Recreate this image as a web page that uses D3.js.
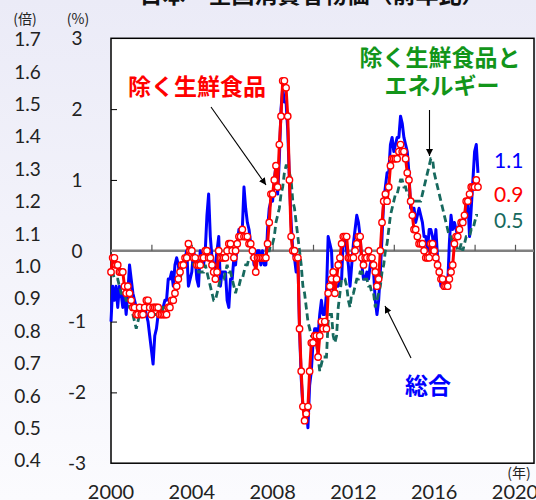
<!DOCTYPE html>
<html><head><meta charset="utf-8">
<script src="https://cdn.jsdelivr.net/npm/d3@7"></script>
<style>html,body{margin:0;padding:0;background:#f3f3fb;}svg{display:block}</style>
</head><body>
<svg id="c" width="536" height="500"></svg>
<script>
const START_YEAR = 2000;
// 総合 (headline CPI, y/y %), monthly Jan 2000 - Mar 2018
const headline = [
-1.0,-0.5,-0.7,-0.5,-0.8,-0.5,-0.6,-0.8,-0.6,-0.9,-0.6,-0.2,
-0.4,-0.6,-0.7,-0.8,-0.8,-0.8,-0.8,-0.8,-0.8,-0.9,-1.0,-1.2,
-1.4,-1.6,-1.2,-1.1,-0.9,-0.8,-0.8,-0.8,-0.7,-0.7,-0.4,-0.4,
-0.3,-0.5,-0.2,-0.1,-0.2,-0.4,-0.2,-0.2,-0.1,0.0,-0.5,-0.4,
-0.3,0.0,-0.1,-0.4,-0.5,0.0,-0.1,-0.2,0.0,0.5,0.8,0.2,
-0.1,-0.3,-0.2,0.0,0.2,-0.5,-0.3,-0.3,-0.3,-0.7,-0.8,-0.4,
-0.4,-0.1,-0.2,0.1,0.3,0.2,0.3,0.9,0.6,0.4,0.3,0.1,
0.0,-0.2,-0.1,0.0,0.0,-0.2,0.0,-0.2,-0.2,0.3,0.6,0.7,
0.7,1.0,1.2,0.8,1.3,2.0,2.3,2.1,2.1,1.7,1.0,0.4,
0.0,-0.1,-0.3,-0.1,-1.1,-1.8,-2.2,-2.2,-2.2,-2.5,-1.9,-1.7,
-1.3,-1.1,-1.1,-1.2,-0.9,-0.7,-0.9,-0.9,-0.6,0.2,0.1,0.0,
-0.6,-0.5,-0.5,-0.5,-0.4,-0.4,0.2,0.2,0.0,-0.2,-0.5,-0.2,
0.1,0.3,0.5,0.4,0.2,-0.2,-0.4,-0.4,-0.3,-0.4,-0.2,-0.1,
-0.3,-0.7,-0.9,-0.7,-0.3,0.2,0.7,0.9,1.1,1.1,1.5,1.6,
1.4,1.5,1.6,1.6,1.9,1.8,1.6,1.5,1.4,1.1,0.6,0.6,
0.6,0.4,0.5,0.6,0.5,0.4,0.2,0.2,0.0,0.3,0.3,0.2,
0.0,0.3,-0.1,-0.3,-0.5,-0.4,-0.4,-0.5,-0.5,0.1,0.5,0.3,
0.4,0.3,0.2,0.4,0.4,0.4,0.4,0.7,0.7,0.2,0.6,1.0,
1.4,1.5,1.1
];
// 除く生鮮食品 (ex fresh food)
const exFresh = [
-0.3,-0.1,-0.1,-0.2,-0.2,-0.3,-0.3,-0.3,-0.5,-0.6,-0.5,-0.6,
-0.7,-0.8,-0.8,-0.9,-0.9,-0.8,-0.9,-0.9,-0.8,-0.7,-0.7,-0.8,
-0.9,-0.8,-0.8,-0.8,-0.8,-0.9,-0.9,-0.9,-0.9,-0.9,-0.8,-0.8,
-0.7,-0.7,-0.6,-0.5,-0.4,-0.3,-0.2,-0.2,-0.1,-0.1,0.1,0.0,
0.0,-0.1,-0.1,-0.2,-0.2,-0.2,-0.1,-0.1,0.0,0.0,-0.1,-0.1,
-0.2,-0.3,-0.4,-0.3,0.0,-0.1,-0.1,-0.1,-0.1,0.0,0.1,0.1,
0.0,-0.1,0.0,0.1,0.2,0.2,0.3,0.2,0.2,0.2,0.1,0.1,
0.0,-0.1,-0.3,-0.1,-0.1,-0.1,-0.1,-0.1,-0.1,0.1,0.4,0.8,
0.8,1.0,1.2,0.9,1.5,1.9,2.4,2.4,2.3,1.9,1.0,0.2,
0.0,0.0,-0.1,-0.1,-1.1,-1.7,-2.2,-2.4,-2.3,-2.2,-1.7,-1.3,
-1.3,-1.2,-1.2,-1.5,-1.2,-1.0,-1.1,-1.0,-1.1,-0.6,-0.5,-0.4,
-0.3,-0.6,-0.4,-0.2,-0.1,0.1,0.2,0.2,0.2,-0.1,-0.1,-0.1,
-0.1,0.0,0.1,0.2,0.2,-0.1,-0.2,-0.1,-0.1,0.0,-0.1,-0.1,
-0.2,-0.3,-0.5,-0.4,0.0,0.4,0.7,0.8,0.7,0.9,1.2,1.3,
1.3,1.3,1.3,1.4,1.5,1.4,1.4,1.3,1.1,1.0,0.7,0.5,
0.3,0.3,0.2,0.1,0.1,0.1,0.0,-0.1,-0.1,-0.1,0.1,0.1,
0.0,-0.1,-0.2,-0.3,-0.4,-0.4,-0.5,-0.5,-0.5,-0.4,-0.3,-0.2,
0.1,0.2,0.2,0.3,0.4,0.4,0.5,0.7,0.7,0.8,0.9,0.9,
0.9,1.0,0.9
];
// 除く生鮮食品とエネルギー (ex fresh food and energy)
const exFreshEnergy = [
-0.3,-0.3,-0.4,-0.4,-0.4,-0.5,-0.6,-0.6,-0.6,-0.7,-0.7,-0.8,
-0.8,-0.9,-1.0,-1.1,-1.0,-0.9,-0.9,-0.8,-0.8,-0.8,-0.8,-0.8,
-0.9,-0.9,-0.9,-0.9,-0.9,-0.8,-0.9,-0.8,-0.8,-0.8,-0.8,-0.7,
-0.7,-0.7,-0.6,-0.5,-0.4,-0.4,-0.3,-0.2,-0.1,-0.1,-0.1,-0.1,
-0.1,-0.2,-0.2,-0.2,-0.3,-0.3,-0.3,-0.3,-0.2,-0.3,-0.4,-0.5,
-0.6,-0.7,-0.7,-0.6,-0.5,-0.4,-0.4,-0.4,-0.3,-0.2,-0.3,-0.3,
-0.4,-0.5,-0.6,-0.5,-0.5,-0.4,-0.4,-0.3,-0.2,-0.2,-0.1,-0.1,
-0.1,-0.1,-0.1,-0.1,-0.1,-0.1,-0.1,-0.1,-0.1,0.0,0.0,0.1,
0.1,0.2,0.4,0.5,0.6,0.8,0.9,1.1,1.2,1.2,1.1,1.0,
0.7,0.6,0.4,0.2,0.0,-0.2,-0.5,-0.6,-0.8,-1.0,-1.1,-1.2,
-1.2,-1.3,-1.3,-1.5,-1.7,-1.6,-1.5,-1.5,-1.5,-1.0,-0.9,-0.9,
-1.2,-1.3,-1.2,-0.8,-0.6,-0.4,-0.4,-0.4,-0.5,-0.7,-0.8,-0.6,
-0.6,-0.5,-0.4,-0.4,-0.3,-0.3,-0.4,-0.4,-0.4,-0.5,-0.5,-0.6,
-0.6,-0.8,-0.7,-0.6,-0.5,-0.3,-0.2,0.0,0.1,0.3,0.5,0.6,
0.7,0.8,0.8,0.9,1.0,1.0,0.9,0.9,0.8,0.8,0.7,0.7,
0.7,0.7,0.7,0.7,0.7,0.8,0.9,1.0,1.1,1.2,1.3,1.3,
1.1,1.0,0.9,0.8,0.7,0.6,0.5,0.4,0.3,0.2,0.2,0.1,
0.1,0.1,0.0,0.0,0.1,0.0,0.1,0.2,0.2,0.2,0.3,0.3,
0.4,0.5,0.5
];
const pctTicks = [-3, -2, -1, 0, 1, 2, 3];
const pctInnerTicks = [-2, -1, 1, 2];
const ratioTicks = [1.7, 1.6, 1.5, 1.4, 1.3, 1.2, 1.1, 1.0, 0.9, 0.8, 0.7, 0.6, 0.5, 0.4];
const yearLabels = [2000, 2004, 2008, 2012, 2016, 2020];
const yearTicks = [2002, 2004, 2006, 2008, 2010, 2012, 2014, 2016, 2018, 2020];
const latestLabels = ["1.1", "0.9", "0.5"];

const BLUE = "#0000ff", RED = "#ff0000", TEAL = "#17695e", GREEN = "#12951a";
const NUM = "Lato, 'Noto Sans', sans-serif";
const JP = "'Noto Sans CJK JP', 'Noto Sans', sans-serif";

const svg = d3.select("#c");
const W = 536, H = 500;
const defs = svg.append("defs");
const grad = defs.append("linearGradient").attr("id", "bg").attr("x1", 0).attr("y1", 0).attr("x2", 0).attr("y2", 1);
grad.append("stop").attr("offset", "0%").attr("stop-color", "#ebebf7");
grad.append("stop").attr("offset", "100%").attr("stop-color", "#fbfbfe");
defs.append("marker").attr("id", "arr").attr("viewBox", "0 0 10 10")
  .attr("refX", 10).attr("refY", 5).attr("markerWidth", 7).attr("markerHeight", 7)
  .attr("markerUnits", "userSpaceOnUse").attr("orient", "auto")
  .append("path").attr("d", "M0,0 L10,5 L0,10 z").attr("fill", "#000");

svg.append("rect").attr("width", W).attr("height", H).attr("fill", "url(#bg)");

const P = {left: 111, right: 534, top: 38.3, bottom: 463.2};
const x = d3.scaleLinear().domain([2000, 2020]).range([111, 515]);
const y = d3.scaleLinear().domain([-3, 3]).range([P.bottom, P.top]);
const yRatio = d3.scaleLinear().domain([0.4, 1.7]).range([460.5, 39.3]);

// title (cut at top)
svg.append("text").attr("x", 312).attr("y", 3).attr("text-anchor", "middle")
  .attr("font-family", JP).attr("font-weight", "bold").attr("font-size", 23).attr("fill", "#111")
  .text("日本　全国消費者物価（前年比）");

// plot box
svg.append("rect").attr("x", P.left).attr("y", P.top).attr("width", P.right - P.left)
  .attr("height", P.bottom - P.top).attr("fill", "#fff").attr("stroke", "#000").attr("stroke-width", 1.5);

// inner left ticks
const yAx = svg.append("g").attr("transform", `translate(${P.left},0)`)
  .call(d3.axisRight(y).tickValues(pctInnerTicks).tickSize(6).tickFormat(""));
yAx.select(".domain").remove();
yAx.selectAll("line").attr("stroke", "#000").attr("stroke-width", 1);

// zero line
svg.append("line").attr("x1", P.left).attr("x2", P.right).attr("y1", y(0)).attr("y2", y(0))
  .attr("stroke", "#808080").attr("stroke-width", 2.5);
const xAx = svg.append("g").attr("transform", `translate(0,${y(0)})`)
  .call(d3.axisTop(x).tickValues(yearTicks).tickSize(6).tickFormat(""));
xAx.select(".domain").remove();
xAx.selectAll("line").attr("stroke", "#555").attr("stroke-width", 1.2);

// axis labels
svg.append("g").selectAll("text").data(pctTicks).join("text")
  .attr("x", 77).attr("y", d => y(d)).attr("dy", "0.36em").attr("text-anchor", "middle")
  .attr("font-family", NUM).attr("font-size", 19).attr("fill", "#222").text(d => d);
svg.append("g").selectAll("text").data(ratioTicks).join("text")
  .attr("x", 27.5).attr("y", d => yRatio(d)).attr("dy", "0.36em").attr("text-anchor", "middle")
  .attr("font-family", NUM).attr("font-size", 19).attr("fill", "#222").text(d => d.toFixed(1));
svg.append("g").selectAll("text").data(yearLabels).join("text")
  .attr("x", d => x(d)).attr("y", 499).attr("text-anchor", "middle")
  .attr("font-family", NUM).attr("font-size", 20).attr("fill", "#222").text(d => d);
svg.append("text").attr("x", 25).attr("y", 24).attr("text-anchor", "middle")
  .attr("font-family", JP).attr("font-size", 14).attr("fill", "#222").text("(倍)");
svg.append("text").attr("x", 78).attr("y", 24).attr("text-anchor", "middle")
  .attr("font-family", JP).attr("font-size", 14).attr("fill", "#222").text("(%)");
svg.append("text").attr("x", 519).attr("y", 478).attr("text-anchor", "middle")
  .attr("font-family", JP).attr("font-size", 14).attr("fill", "#222").text("(年)");

// series
const mx = i => x(START_YEAR + i / 12);
const line = d3.line().x((d, i) => mx(i)).y(d => y(d));
svg.append("path").datum(headline).attr("d", line).attr("fill", "none")
  .attr("stroke", BLUE).attr("stroke-width", 3).attr("stroke-linejoin", "round");
svg.append("path").datum(exFreshEnergy).attr("d", line).attr("fill", "none")
  .attr("stroke", TEAL).attr("stroke-width", 2.8).attr("stroke-dasharray", "7,4");
svg.append("path").datum(exFresh).attr("d", line).attr("fill", "none")
  .attr("stroke", RED).attr("stroke-width", 3).attr("stroke-linejoin", "round");
svg.append("g").selectAll("circle").data(exFresh).join("circle")
  .attr("cx", (d, i) => mx(i)).attr("cy", d => y(d)).attr("r", 3.2)
  .attr("fill", "#fff").attr("stroke", RED).attr("stroke-width", 1.4);

// annotations
const ann = (txt, ax, ay, col, anchor) => svg.append("text").attr("x", ax).attr("y", ay)
  .attr("text-anchor", anchor || "middle").attr("font-family", JP).attr("font-weight", "bold")
  .attr("font-size", 23).attr("fill", col).text(txt);
ann("除く生鮮食品", 197, 95, RED);
ann("除く生鮮食品と", 440, 66, GREEN);
ann("エネルギー", 442, 94, GREEN);
ann("総合", 428, 394, BLUE);

const arrow = (x1, y1, x2, y2) => svg.append("line").attr("x1", x1).attr("y1", y1)
  .attr("x2", x2).attr("y2", y2).attr("stroke", "#000").attr("stroke-width", 1.1)
  .attr("marker-end", "url(#arr)");
arrow(211, 107, 266, 185);
arrow(429.5, 110, 429.5, 156);
arrow(411, 358, 385, 306);

// latest values
const latestCols = [BLUE, RED, TEAL];
const latestY = [168, 202, 227.5];
svg.append("g").selectAll("text").data(latestLabels).join("text")
  .attr("x", 494).attr("y", (d, i) => latestY[i]).attr("font-family", NUM).attr("font-size", 21)
  .attr("fill", (d, i) => latestCols[i]).text(d => d);
</script>
</body></html>
